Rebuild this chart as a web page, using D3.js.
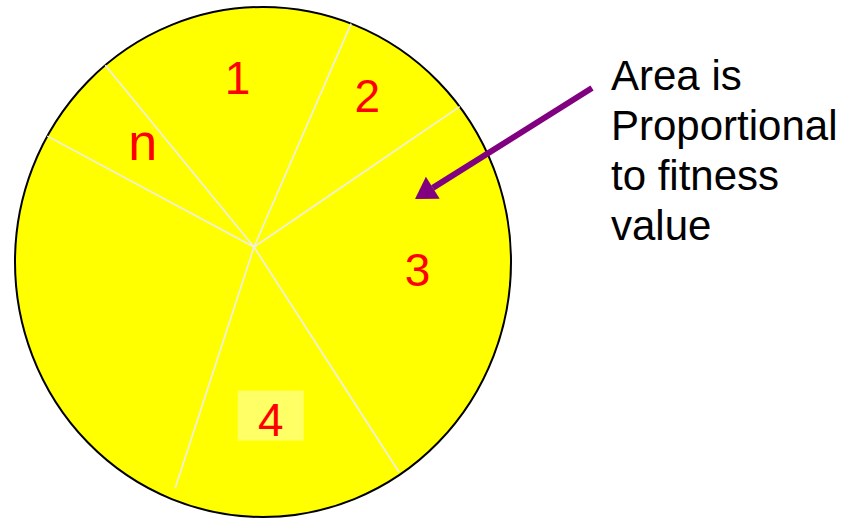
<!DOCTYPE html>
<html>
<head>
<meta charset="utf-8">
<script src="https://cdn.jsdelivr.net/npm/d3@7"></script>
<style>
  body { margin: 0; background: #fff; }
  text { font-family: "Liberation Sans", Arial, sans-serif; }
</style>
</head>
<body>
<div id="container"></div>
<script>
/**
 * DATA
 * */
// slice shares of the wheel (degrees of the turn), clockwise starting from slice "1"
const sliceLabels = ["1", "2", "3", "4", "", "n"];
const sliceShares = [62.8, 32.2, 91.5, 50.9, 100.1, 22.5];
const noteLines = ["Area is", "Proportional", "to fitness", "value"];

/**
 * CONSTANTS
 * */
const width = 856, height = 519;
const wheel = { cx: 263, cy: 262, rx: 248, ry: 255 };   // outline ellipse
const hub = { x: 254, y: 247 };                          // where the spokes meet
const startDeg = -39.3;
const spokeReach = [1, 1, 1, 0.99, 0.955, 1];            // the drawn spokes stop a bit short at the bottom
const labelRadius = 170;
// hand placement tweaks for the slice labels
const labelNudge = { "1": [7, -1], "2": [5, -21], "3": [-3, -11], "4": [-5, 4], "n": [20, 7] };
const arrow = { x1: 592, y1: 88, x2: 415, y2: 199, head: 21, half: 13 };

const svg = d3.select("#container")
    .append("svg")
    .attr("width", width)
    .attr("height", height);

const pie = d3.pie()
    .sort(null)
    .startAngle(startDeg * Math.PI / 180)
    .endAngle((startDeg + 360) * Math.PI / 180);

const arcs = pie(sliceShares);

// distance from hub to ellipse outline along angle a (0 = up, clockwise)
function rayToEdge(a) {
    const dx = Math.sin(a), dy = -Math.cos(a);
    const ox = hub.x - wheel.cx, oy = hub.y - wheel.cy;
    const A = dx * dx / (wheel.rx * wheel.rx) + dy * dy / (wheel.ry * wheel.ry);
    const B = 2 * (ox * dx / (wheel.rx * wheel.rx) + oy * dy / (wheel.ry * wheel.ry));
    const C = ox * ox / (wheel.rx * wheel.rx) + oy * oy / (wheel.ry * wheel.ry) - 1;
    return (-B + Math.sqrt(B * B - 4 * A * C)) / (2 * A);
}

// wheel body
svg.append("ellipse")
    .attr("cx", wheel.cx)
    .attr("cy", wheel.cy)
    .attr("rx", wheel.rx)
    .attr("ry", wheel.ry)
    .attr("fill", "#ffff00")
    .attr("stroke", "#000")
    .attr("stroke-width", 2);

// spokes
svg.selectAll(".spoke")
    .data(arcs)
    .join("line")
    .attr("class", "spoke")
    .attr("x1", hub.x)
    .attr("y1", hub.y)
    .attr("x2", (d, i) => hub.x + spokeReach[i] * rayToEdge(d.startAngle) * Math.sin(d.startAngle))
    .attr("y2", (d, i) => hub.y - spokeReach[i] * rayToEdge(d.startAngle) * Math.cos(d.startAngle))
    .attr("stroke", "#eeeeee")
    .attr("stroke-width", 1.6);

// slice labels
const labelData = arcs.map((d, i) => ({ ...d, label: sliceLabels[i] }))
    .filter(d => d.label !== "");

const labelPos = d => {
    const mid = (d.startAngle + d.endAngle) / 2;
    const [nx, ny] = labelNudge[d.label];
    return [hub.x + labelRadius * Math.sin(mid) + nx, hub.y - labelRadius * Math.cos(mid) + ny];
};

// the "4" sits on a pale box
labelData.filter(d => d.label === "4").forEach(d => {
    const [x, y] = labelPos(d);
    svg.append("rect")
        .attr("x", x - 33)
        .attr("y", y - 29)
        .attr("width", 66)
        .attr("height", 50)
        .attr("fill", "#ffff66");
});

svg.selectAll(".slice-label")
    .data(labelData)
    .join("text")
    .attr("class", "slice-label")
    .attr("x", d => labelPos(d)[0])
    .attr("y", d => labelPos(d)[1])
    .attr("dy", d => d.label === "n" ? "0.27em" : "0.36em")
    .attr("text-anchor", "middle")
    .attr("fill", "#ff0000")
    .style("font-size", d => d.label === "n" ? "52px" : "46px")
    .text(d => d.label);

// arrow
const ang = Math.atan2(arrow.y2 - arrow.y1, arrow.x2 - arrow.x1);
const bx = arrow.x2 - arrow.head * Math.cos(ang), by = arrow.y2 - arrow.head * Math.sin(ang);
svg.append("line")
    .attr("x1", arrow.x1)
    .attr("y1", arrow.y1)
    .attr("x2", bx)
    .attr("y2", by)
    .attr("stroke", "#800080")
    .attr("stroke-width", 6);
svg.append("path")
    .attr("d", d3.line()([
        [arrow.x2, arrow.y2],
        [bx + arrow.half * Math.sin(ang), by - arrow.half * Math.cos(ang)],
        [bx - arrow.half * Math.sin(ang), by + arrow.half * Math.cos(ang)]
    ]) + "Z")
    .attr("fill", "#800080");

// note text
svg.append("text")
    .attr("x", 611)
    .attr("y", 90)
    .attr("fill", "#000")
    .style("font-size", "42px")
    .selectAll("tspan")
    .data(noteLines)
    .join("tspan")
    .attr("x", 611)
    .attr("dy", (d, i) => i === 0 ? 0 : 50)
    .text(d => d);
</script>
</body>
</html>
